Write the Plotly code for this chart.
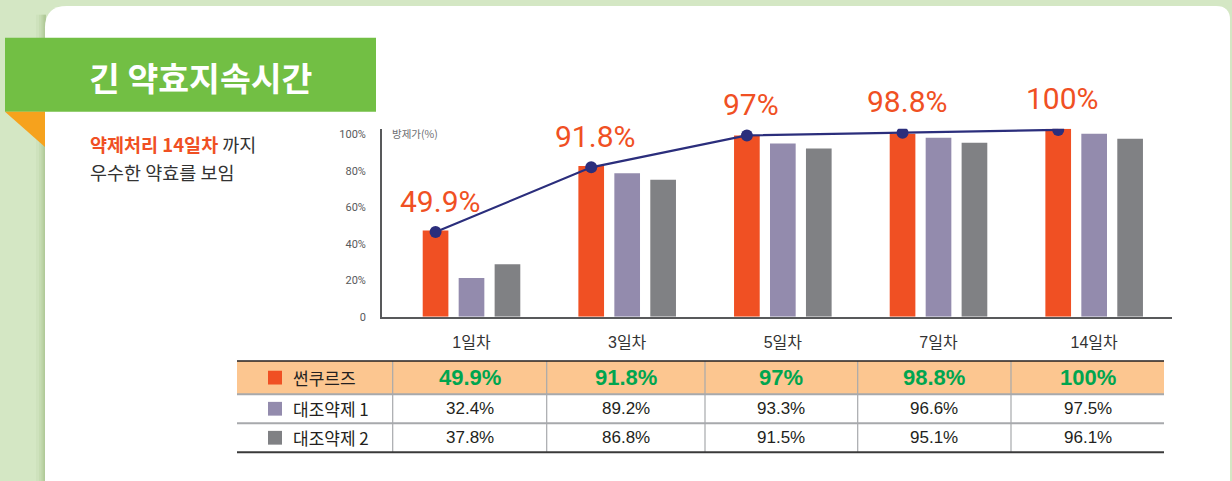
import plotly.graph_objects as go

# ---------------- data ----------------
categories = ["1일차", "3일차", "5일차", "7일차", "14일차"]
series_names = ["썬쿠르즈", "대조약제 1", "대조약제 2"]

# table values (%)
sun_values = [49.9, 91.8, 97, 98.8, 100]
comp1_values = [32.4, 89.2, 93.3, 96.6, 97.5]
comp2_values = [37.8, 86.8, 91.5, 95.1, 96.1]

# bar heights as drawn in the picture (%)
sun_bars = [47.3, 82.6, 99.4, 100.3, 103.0]
comp1_bars = [21.2, 78.7, 94.9, 98.1, 100.3]
comp2_bars = [28.7, 75.1, 92.2, 95.4, 97.6]

# line markers as drawn (%)
sun_line = [46.4, 81.9, 99.4, 100.8, 102.4]

y_ticks = [0, 20, 40, 60, 80, 100]
y_ticklabels = ["0", "20%", "40%", "60%", "80%", "100%"]

# ---------------- style ----------------
W, H = 1232, 481
C_ORANGE = "#f05023"
C_PURPLE = "#938bad"
C_GRAY = "#808184"
C_LINE = "#2b2e7c"
C_GREEN_TXT = "#00a54f"
C_DARK = "#231f20"
BG = "#d4e7c4"
KR = "Noto Sans CJK KR"
NUM = "Liberation Sans, Noto Sans CJK KR"

def X(px):
    return px / W

def Y(py):
    return 1 - py / H

bargap = 0.307
bargroupgap = 0.286
slot = (1 - bargap) / 3
idx = list(range(len(categories)))

fig = go.Figure()
colors = [C_ORANGE, C_PURPLE, C_GRAY]
for name, vals, col in zip(series_names, [sun_bars, comp1_bars, comp2_bars], colors):
    fig.add_trace(go.Bar(x=idx, y=vals, name=name, marker=dict(color=col, line=dict(width=0)),
                         showlegend=False, hoverinfo="skip"))

fig.add_trace(go.Scatter(x=[i - slot for i in idx], y=sun_line, mode="lines+markers",
                         line=dict(color=C_LINE, width=2.2),
                         marker=dict(color=C_LINE, size=12),
                         showlegend=False, hoverinfo="skip"))

shapes = []
annotations = []

# background card
r1x, r1y = 22 / W, 22 / H
r2x, r2y = 14 / W, 14 / H
x0, x1 = X(45), X(1230)
y_top, y_bot = Y(5), Y(490)
card_path = (f"M {x0},{y_bot} L {x0},{y_top - r1y} Q {x0},{y_top} {x0 + r1x},{y_top} "
             f"L {x1 - r2x},{y_top} Q {x1},{y_top} {x1},{y_top - r2y} L {x1},{y_bot} Z")
# soft shadow at left edge of the card
for dx, op in [(9, 0.07), (6, 0.10), (3.5, 0.14), (1.5, 0.18)]:
    shapes.append(dict(type="rect", xref="paper", yref="paper", x0=X(45 - dx), x1=X(46),
                       y0=Y(490), y1=Y(14), fillcolor="#7fa35f", opacity=op,
                       line=dict(width=0), layer="below"))
shapes.append(dict(type="path", xref="paper", yref="paper", path=card_path,
                   fillcolor="white", line=dict(width=0), layer="below"))

# title banner
shapes.append(dict(type="rect", xref="paper", yref="paper", x0=X(5), x1=X(376), y0=Y(112.7), y1=Y(37.3),
                   fillcolor="#72bf44", line=dict(width=0), layer="below"))
shapes.append(dict(type="path", xref="paper", yref="paper",
                   path=f"M {X(5)},{Y(112.7)} L {X(45)},{Y(112.7)} L {X(45)},{Y(148.5)} Z",
                   fillcolor="#f6a21d", line=dict(width=0), layer="below"))
annotations.append(dict(text="<b>긴 약효지속시간</b>", xref="paper", yref="paper", x=X(200), y=Y(77),
                        xanchor="center", yanchor="middle", showarrow=False,
                        font=dict(family=KR, size=33.5, color="white")))

# side text
annotations.append(dict(text=f"<b><span style='color:{C_ORANGE}'>약제처리 14일차</span></b> 까지",
                        xref="paper", yref="paper", x=X(88), y=Y(145.5), xanchor="left", yanchor="middle",
                        showarrow=False, font=dict(family=KR, size=18.5, color="#333333")))
annotations.append(dict(text="우수한 약효를 보임",
                        xref="paper", yref="paper", x=X(88), y=Y(174), xanchor="left", yanchor="middle",
                        showarrow=False, font=dict(family=KR, size=18.5, color="#333333")))

# y-axis title
annotations.append(dict(text="방제가(%)", xref="paper", yref="paper", x=X(390), y=Y(134.5),
                        xanchor="left", yanchor="middle", showarrow=False,
                        font=dict(family=KR, size=10.5, color="#6d6e71")))

# labels above the line
for i, v in enumerate(sun_values):
    annotations.append(dict(text=f"{v:g}%", x=i - slot, y=sun_line[i], xref="x", yref="y",
                            xanchor="center", yanchor="middle", xshift=4, yshift=31, showarrow=False,
                            font=dict(family="Roboto, Liberation Sans", size=30, color=C_ORANGE)))

# ---------------- table ----------------
t_left, t_right = 237, 1164
row_edges = [366, 400, 429.3, 459]
col_edges = [t_left, 392.7, 546.7, 705, 857.7, 1011, t_right]
shapes.append(dict(type="rect", xref="paper", yref="paper", x0=X(t_left), x1=X(t_right),
                   y0=Y(row_edges[1]), y1=Y(row_edges[0]), fillcolor="#fcc690", line=dict(width=0),
                   layer="below"))
for cx in col_edges[1:-1]:
    shapes.append(dict(type="line", xref="paper", yref="paper", x0=X(cx), x1=X(cx),
                       y0=Y(row_edges[0]), y1=Y(row_edges[-1]), line=dict(color="#a7a9ac", width=1.2)))
for ry in row_edges[1:-1]:
    shapes.append(dict(type="line", xref="paper", yref="paper", x0=X(t_left), x1=X(t_right),
                       y0=Y(ry), y1=Y(ry), line=dict(color="#a7a9ac", width=2)))
shapes.append(dict(type="line", xref="paper", yref="paper", x0=X(t_left), x1=X(t_right),
                   y0=Y(row_edges[0]), y1=Y(row_edges[0]), line=dict(color=C_DARK, width=1.5)))
shapes.append(dict(type="line", xref="paper", yref="paper", x0=X(t_left), x1=X(t_right),
                   y0=Y(row_edges[-1]), y1=Y(row_edges[-1]), line=dict(color="#3a3a3a", width=2)))

rows = [sun_values, comp1_values, comp2_values]
for r, (name, vals, col) in enumerate(zip(series_names, rows, colors)):
    cy = (row_edges[r] + row_edges[r + 1]) / 2
    shapes.append(dict(type="rect", xref="paper", yref="paper", x0=X(268), x1=X(282),
                       y0=Y(cy + 7), y1=Y(cy - 7), fillcolor=col, line=dict(width=0)))
    annotations.append(dict(text=name, xref="paper", yref="paper", x=X(291), y=Y(cy),
                            xanchor="left", yanchor="middle", showarrow=False,
                            font=dict(family=KR, size=17, color=C_DARK)))
    for c, v in enumerate(vals):
        cx = (col_edges[c + 1] + col_edges[c + 2]) / 2
        if r == 0:
            txt, fnt = f"<b>{v:g}%</b>", dict(family=NUM, size=22, color=C_GREEN_TXT)
        else:
            txt, fnt = f"{v:g}%", dict(family=NUM, size=17, color=C_DARK)
        annotations.append(dict(text=txt, xref="paper", yref="paper", x=X(cx), y=Y(cy),
                                xanchor="center", yanchor="middle", showarrow=False, font=fnt))

fig.update_layout(
    width=W, height=H, autosize=False,
    margin=dict(l=0, r=0, t=0, b=0),
    paper_bgcolor=BG,
    plot_bgcolor="rgba(0,0,0,0)",
    barmode="group", bargap=bargap, bargroupgap=bargroupgap,
    shapes=shapes, annotations=annotations,
    showlegend=False,
    xaxis=dict(domain=[X(382), X(1172)], range=[-0.575, 4.5], tickvals=idx, ticktext=categories,
               showgrid=False, zeroline=False, showline=True, linecolor="#58595b", linewidth=1.8,
               ticks="", ticklabelstandoff=10,
               tickfont=dict(family=NUM, size=16, color="#333333"), fixedrange=True),
    yaxis=dict(domain=[Y(321), Y(130)], range=[0, 103], tickvals=y_ticks, ticktext=y_ticklabels,
               showgrid=False, zeroline=False, showline=True, linecolor="#58595b", linewidth=1.8,
               ticks="", ticklabelstandoff=12,
               tickfont=dict(family="Roboto, Liberation Sans", size=11, color="#58595b"), fixedrange=True),
)

page_js = ("document.body.style.margin='0';document.body.style.padding='0';"
           "document.body.style.overflow='hidden';"
           f"document.body.style.background='{BG}';")

fig.write_html("out.html", post_script=page_js, config={"displayModeBar": False})
